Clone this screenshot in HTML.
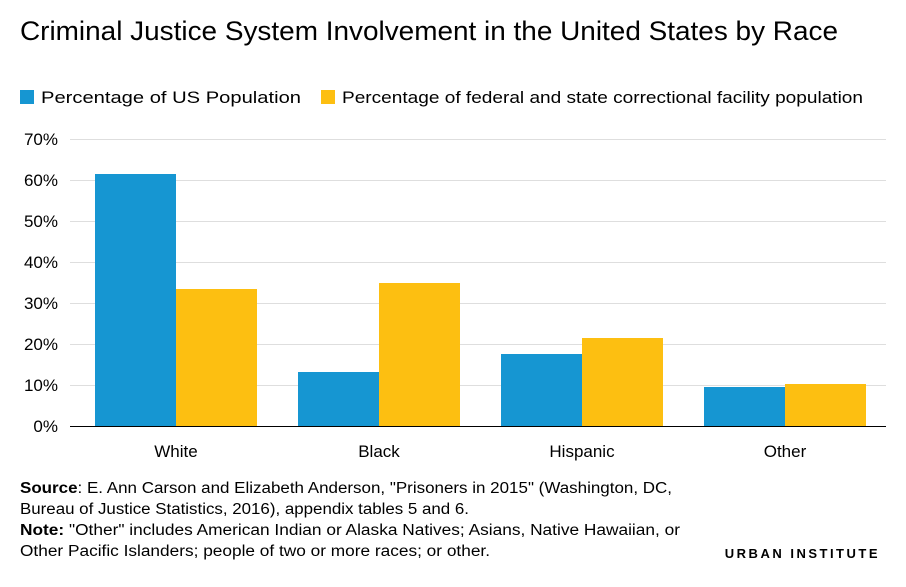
<!DOCTYPE html>
<html><head><meta charset="utf-8"><style>
body{margin:0;background:#fff;width:906px;height:582px;overflow:hidden;font-family:"Liberation Sans",sans-serif;}
</style></head><body>
<svg width="906" height="582" xmlns="http://www.w3.org/2000/svg" font-family="Liberation Sans, sans-serif">
<text x="20" y="40" font-size="27" fill="#000" textLength="818" lengthAdjust="spacingAndGlyphs">Criminal Justice System Involvement in the United States by Race</text>
<rect x="20" y="90" width="14" height="14" fill="#1696d2"/>
<text x="41" y="103" font-size="17" fill="#000" textLength="260" lengthAdjust="spacingAndGlyphs">Percentage of US Population</text>
<rect x="321" y="90" width="14" height="14" fill="#fdbf11"/>
<text x="342" y="103" font-size="17" fill="#000" textLength="521" lengthAdjust="spacingAndGlyphs">Percentage of federal and state correctional facility population</text>
<g stroke="#dedede" stroke-width="1">
<line x1="70" x2="886" y1="139.5" y2="139.5"/>
<line x1="70" x2="886" y1="180.5" y2="180.5"/>
<line x1="70" x2="886" y1="221.5" y2="221.5"/>
<line x1="70" x2="886" y1="262.5" y2="262.5"/>
<line x1="70" x2="886" y1="303.5" y2="303.5"/>
<line x1="70" x2="886" y1="344.5" y2="344.5"/>
<line x1="70" x2="886" y1="385.5" y2="385.5"/>
</g>
<g font-size="17" fill="#000" text-anchor="end">
<text x="58" y="145">70%</text><text x="58" y="186">60%</text><text x="58" y="227">50%</text>
<text x="58" y="268">40%</text><text x="58" y="309">30%</text><text x="58" y="350">20%</text>
<text x="58" y="391">10%</text><text x="58" y="432">0%</text>
</g>
<g fill="#1696d2">
<rect x="95" y="174" width="81" height="252"/>
<rect x="298" y="372" width="81" height="54"/>
<rect x="501" y="354" width="81" height="72"/>
<rect x="704" y="387" width="81" height="39"/>
</g>
<g fill="#fdbf11">
<rect x="176" y="289" width="81" height="137"/>
<rect x="379" y="283" width="81" height="143"/>
<rect x="582" y="338" width="81" height="88"/>
<rect x="785" y="384" width="81" height="42"/>
</g>
<line x1="70" x2="886" y1="426.5" y2="426.5" stroke="#000" stroke-width="1"/>
<g font-size="17" fill="#000" text-anchor="middle">
<text x="176" y="457">White</text><text x="379" y="457">Black</text>
<text x="582" y="457">Hispanic</text><text x="785" y="457">Other</text>
</g>
<g font-size="15.5" fill="#000">
<text x="20" y="493" textLength="652" lengthAdjust="spacingAndGlyphs"><tspan font-weight="bold">Source</tspan>: E. Ann Carson and Elizabeth Anderson, "Prisoners in 2015" (Washington, DC,</text>
<text x="20" y="514" textLength="449" lengthAdjust="spacingAndGlyphs">Bureau of Justice Statistics, 2016), appendix tables 5 and 6.</text>
<text x="20" y="535" textLength="660" lengthAdjust="spacingAndGlyphs"><tspan font-weight="bold">Note:</tspan> "Other" includes American Indian or Alaska Natives; Asians, Native Hawaiian, or</text>
<text x="20" y="556" textLength="470" lengthAdjust="spacingAndGlyphs">Other Pacific Islanders; people of two or more races; or other.</text>
</g>
<text x="880" y="558" font-size="13" font-weight="bold" fill="#000" text-anchor="end" letter-spacing="2.5">URBAN INSTITUTE</text>
</svg>
</body></html>
